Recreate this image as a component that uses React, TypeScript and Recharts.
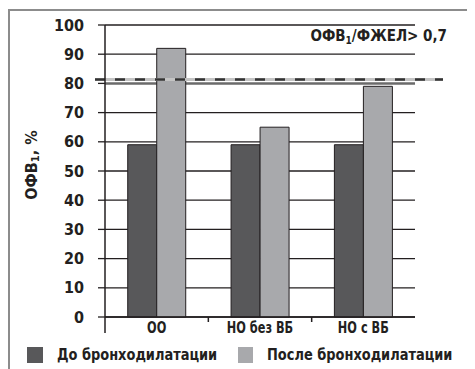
import { BarChart, Bar, XAxis, YAxis, CartesianGrid, ReferenceLine, Legend } from "recharts";

const categories = ["ОО", "НО без ВБ", "НО с ВБ"];
const beforeValues = [59, 59, 59];
const afterValues = [92, 65, 79];
const yTicks = [0, 10, 20, 30, 40, 50, 60, 70, 80, 90, 100];
const thresholdValue = 81.3;
const seriesNames = ["До бронходилатации", "После бронходилатации"];

const DARK = "#58585a";
const LIGHT = "#a8a9ac";
const INK = "#231f20";
const FONT = "'DejaVu Sans Condensed', 'DejaVu Sans', sans-serif";

const data = categories.map((name, i) => ({
  name,
  before: beforeValues[i],
  after: afterValues[i],
}));

// category label at band centre, small tick at the band's left edge
const CategoryTick = (props: any) => {
  const { x, y, payload, index } = props;
  const off = payload?.offset ?? 0;
  return (
    <g>
      <line
        x1={x - off}
        x2={x - off}
        y1={y}
        y2={y + (index === 0 ? 16 : 5)}
        stroke={INK}
        strokeWidth={1.5}
      />
      <text
        x={x}
        y={y + 16}
        textAnchor="middle"
        transform={`translate(${x} 0) scale(0.84 1) translate(${-x} 0)`}
        fontFamily={FONT}
        fontWeight="bold"
        fontSize={15}
        fill={INK}
      >
        {payload.value}
      </text>
    </g>
  );
};

const GridLine = (props: any) => {
  const { x1, x2, y1, y2, index } = props;
  const isEighty = index === yTicks.indexOf(80);
  return (
    <line
      x1={x1}
      x2={x2}
      y1={y1}
      y2={y2}
      stroke={isEighty ? "#6a6a6a" : INK}
      strokeWidth={isEighty ? 2.5 : 1.3}
    />
  );
};

const ThresholdLine = (props: any) => {
  const { x1, x2, y1 } = props;
  const start = Number(x1) - 10;
  const end = Number(x2) + 28;
  return (
    <g>
      <line x1={start} x2={end} y1={y1} y2={y1} stroke="#c4c4c4" strokeWidth={3} />
      <line
        x1={start}
        x2={end}
        y1={y1}
        y2={y1}
        stroke="#333"
        strokeWidth={2.5}
        strokeDasharray="10 10"
      />
    </g>
  );
};

const legendText = {
  display: "inline-block",
  marginLeft: 14,
  transform: "scaleX(0.9)",
  transformOrigin: "left center",
} as const;

const renderLegend = () => (
  <div
    style={{
      display: "flex",
      alignItems: "center",
      whiteSpace: "nowrap",
      width: 467,
      fontFamily: FONT,
      fontWeight: "bold",
      fontSize: 16,
      color: INK,
    }}
  >
    <div style={{ width: 16, height: 16, flex: "none", background: DARK, marginLeft: 19 }} />
    <span style={{ ...legendText, width: 181 }}>{seriesNames[0]}</span>
    <div style={{ width: 15, height: 16, flex: "none", background: LIGHT }} />
    <span style={legendText}>{seriesNames[1]}</span>
  </div>
);

export default function App() {
  return (
    <div style={{ position: "relative", width: 467, height: 361 }}>
      <div
        style={{
          position: "absolute",
          left: 0,
          top: 1,
          width: 470,
          height: 380,
          borderTop: "2px solid #8c8c8c",
          borderLeft: "2px solid #8c8c8c",
        }}
      />
      <BarChart
        width={467}
        height={361}
        data={data}
        margin={{ top: 17, right: 60, left: 0, bottom: 22 }}
        barCategoryGap="22%"
        barGap={0}
      >
        <CartesianGrid vertical={false} horizontal={GridLine} />
        <XAxis
          dataKey="name"
          axisLine={{ stroke: INK, strokeWidth: 1.5 }}
          tickLine={false}
          tickSize={0}
          tickMargin={0}
          interval={0}
          height={30}
          tick={<CategoryTick />}
        />
        <YAxis
          domain={[0, 100]}
          ticks={yTicks}
          width={97}
          axisLine={{ stroke: INK, strokeWidth: 1.5 }}
          tickLine={{ stroke: INK, strokeWidth: 1.3 }}
          tickSize={7}
          tickMargin={14}
          tick={{ fontFamily: FONT, fontWeight: "bold", fontSize: 16, fill: INK }}
          label={() => (
            <text
              x={23}
              y={157}
              transform="rotate(-90 23 157)"
              textAnchor="middle"
              dominantBaseline="central"
              fontFamily={FONT}
              fontWeight="bold"
              fontSize={16}
              fill={INK}
            >
              ОФВ<tspan fontSize={11} dy={4}>1</tspan>
              <tspan dy={-4}>, %</tspan>
            </text>
          )}
        />
        <Bar dataKey="before" name={seriesNames[0]} fill={DARK} stroke={INK} strokeWidth={1} isAnimationActive={false} />
        <Bar dataKey="after" name={seriesNames[1]} fill={LIGHT} stroke={INK} strokeWidth={1} isAnimationActive={false} />
        <ReferenceLine y={thresholdValue} ifOverflow="visible" shape={<ThresholdLine />} />
        <ReferenceLine
          y={100}
          stroke="none"
          label={(p: any) => {
            const vb = p.viewBox || {};
            const right = (vb.x ?? 0) + (vb.width ?? 0) + 32;
            return (
              <text
                x={right}
                y={(vb.y ?? 0) + 16}
                textAnchor="end"
                fontFamily={FONT}
                fontWeight="bold"
                fontSize={15}
                fill={INK}
              >
                ОФВ<tspan fontSize={10} dy={3}>1</tspan>
                <tspan dy={-3}>/ФЖЕЛ&gt; 0,7</tspan>
              </text>
            );
          }}
        />
        <Legend
          layout="horizontal"
          verticalAlign="middle"
          content={renderLegend}
          wrapperStyle={{ position: "absolute", left: 0, top: 337, width: 467 }}
        />
      </BarChart>
    </div>
  );
}
